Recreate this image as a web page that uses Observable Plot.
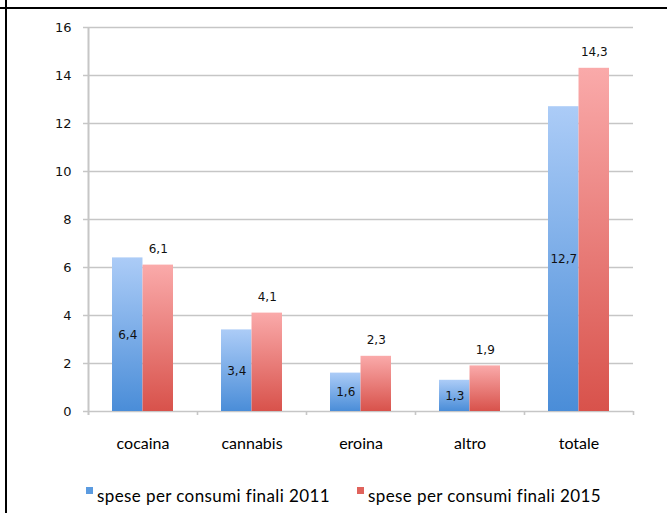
<!DOCTYPE html>
<html><head><meta charset="utf-8">
<script src="https://cdn.jsdelivr.net/npm/d3@7"></script>
<script src="https://cdn.jsdelivr.net/npm/@observablehq/plot@0.6"></script>
<style>
body{margin:0;background:#fff;}
#wrap{position:relative;width:667px;height:513px;overflow:hidden;background:#fff;}
#chart{position:absolute;left:0;top:0;}
#topline{position:absolute;left:0;top:7px;width:667px;height:2px;background:#000;z-index:2;}
#leftline{position:absolute;left:5px;top:0;width:2px;height:513px;background:#000;z-index:2;}
.leg{position:absolute;top:486px;font-family:Lato,"Open Sans",sans-serif;font-size:17px;letter-spacing:0.4px;color:#000;white-space:nowrap;line-height:20px;}
.sw{position:absolute;width:7px;height:7px;top:487px;}
</style>
</head><body>
<div id="wrap">
  <div id="chart"></div>
  <div id="topline"></div>
  <div id="leftline"></div>
</div>
<script>
const categories = ["cocaina","cannabis","eroina","altro","totale"];
const values2011 = [6.4, 3.4, 1.6, 1.3, 12.7];
const values2015 = [6.1, 4.1, 2.3, 1.9, 14.3];
const seriesNames = ["spese per consumi finali 2011","spese per consumi finali 2015"];
const yTicks = [0, 2, 4, 6, 8, 10, 12, 14, 16];

const data2011 = categories.map((c,i)=>({category:c, value:values2011[i]}));
const data2015 = categories.map((c,i)=>({category:c, value:values2015[i]}));
const fmt = d => d.value.toFixed(1).replace(".", ",");

const W = 667, H = 470, mL = 88, mR = 34, mT = 27, mB = 59;
const pIn = 0.44, pOut = 0.22;
const step = (W - mL - mR) / (categories.length - pIn + 2*pOut);
const bw = step * (1 - pIn);
const ext = 4 / ((H - mT - mB) / 16); // 4px below baseline in data units

const axisColor = "#c6c6c6";

const plot = Plot.plot({
  width: W, height: H,
  marginLeft: mL, marginRight: mR, marginTop: mT, marginBottom: mB,
  style: {background: "transparent", overflow: "visible"},
  x: {domain: categories, paddingInner: pIn, paddingOuter: pOut, axis: null, label: null},
  y: {domain: [0, 16], axis: null, label: null},
  marks: [
    Plot.ruleY(yTicks, {stroke: axisColor, strokeWidth: 1.6, insetLeft: -5}),
    Plot.ruleX([categories[0]], {x: d => d, dx: -step/2, y1: -ext, y2: 16, stroke: axisColor, strokeWidth: 2}),
    Plot.ruleX(categories.slice(1), {x: d => d, dx: -step/2, y1: -ext, y2: 0, stroke: axisColor, strokeWidth: 1.6}),
    Plot.ruleX([categories[categories.length-1]], {x: d => d, dx: step/2, y1: -ext, y2: 0, stroke: axisColor, strokeWidth: 1.6}),
    Plot.barY(data2011, {x: "category", y: "value", fill: "url(#gBlue)", insetRight: bw/2}),
    Plot.barY(data2015, {x: "category", y: "value", fill: "url(#gRed)", insetLeft: bw/2}),
    Plot.text(data2011, {x: "category", y: d => d.value/2, dx: -bw/4, text: fmt, fontSize: 12, fontFamily: "DejaVu Sans", fill: "#111"}),
    Plot.text(data2015, {x: "category", y: "value", dx: bw/4, dy: -16, text: fmt, fontSize: 12, fontFamily: "DejaVu Sans", fill: "#111"}),
    Plot.axisY({ticks: yTicks, tickSize: 0, tickPadding: 17, fontSize: 13, fontFamily: "DejaVu Sans", tickFormat: d => String(d), color: "#111", label: null}),
    Plot.axisX({tickSize: 0, tickPadding: 26, fontSize: 16, fontFamily: "Lato", color: "#000", label: null})
  ]
});

const ns = "http://www.w3.org/2000/svg";
const defs = document.createElementNS(ns, "defs");
defs.innerHTML = `
<linearGradient id="gBlue" x1="0" y1="0" x2="0" y2="1">
  <stop offset="0" stop-color="#acccf7"/><stop offset="1" stop-color="#4a8dd8"/>
</linearGradient>
<linearGradient id="gRed" x1="0" y1="0" x2="0" y2="1">
  <stop offset="0" stop-color="#faaaaa"/><stop offset="1" stop-color="#d8524b"/>
</linearGradient>`;
plot.insertBefore(defs, plot.firstChild);
document.getElementById("chart").appendChild(plot);

// legend
const wrap = document.getElementById("wrap");
const legColors = ["#5b9be0", "#e0635c"];
const legX = [86, 357];
seriesNames.forEach((name, i) => {
  const sw = document.createElement("div");
  sw.className = "sw";
  sw.style.left = legX[i] + "px";
  sw.style.background = legColors[i];
  wrap.appendChild(sw);
  const t = document.createElement("div");
  t.className = "leg";
  t.style.left = (legX[i] + 11) + "px";
  t.textContent = name;
  wrap.appendChild(t);
});
</script>
</body></html>
